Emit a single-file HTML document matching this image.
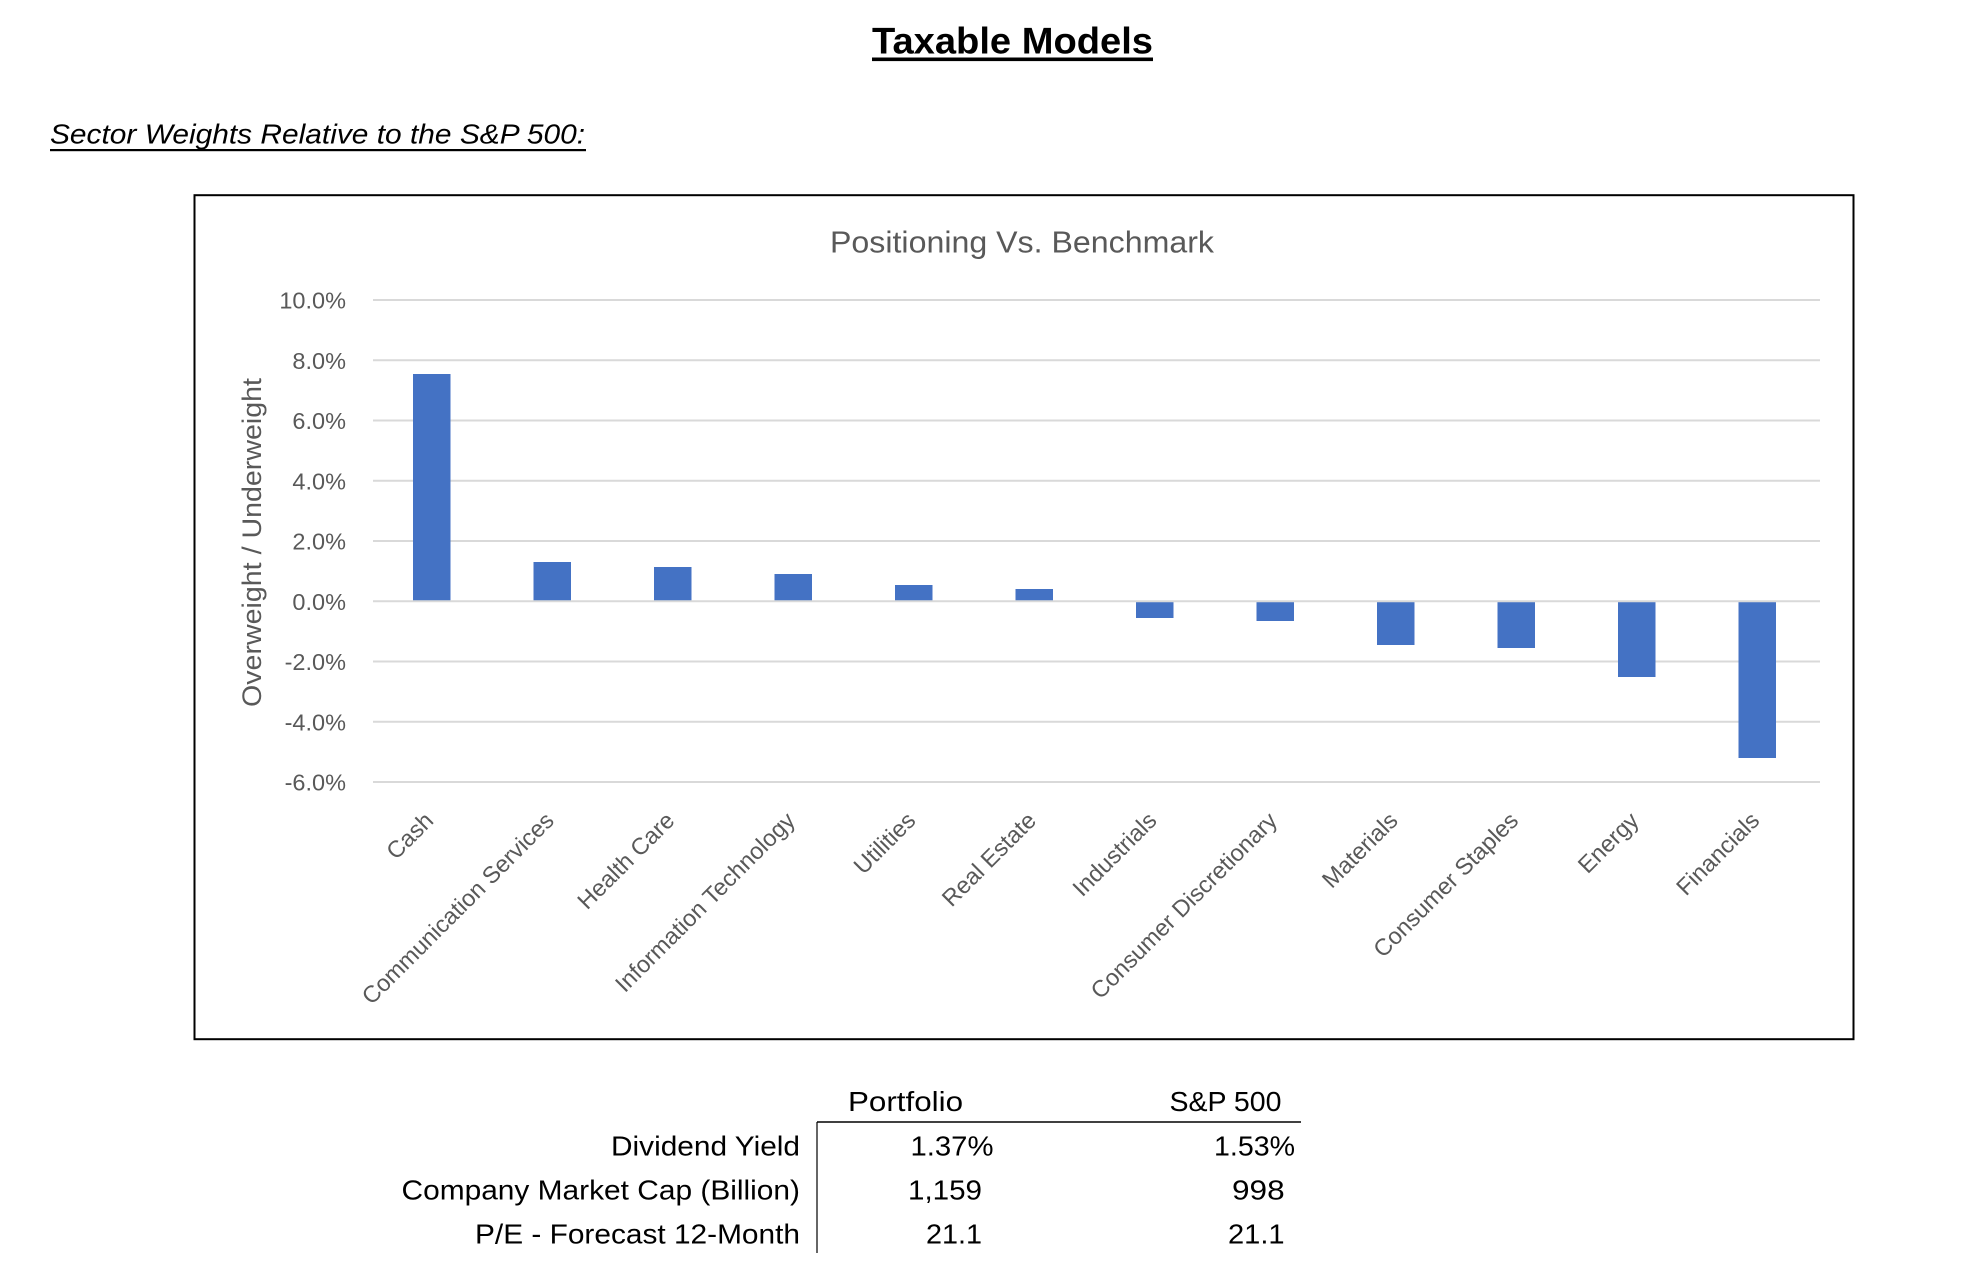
<!DOCTYPE html>
<html>
<head>
<meta charset="utf-8">
<style>
  html, body { margin: 0; padding: 0; background: #ffffff; }
  body { width: 1965px; height: 1280px; overflow: hidden; }
  svg { display: block; }
  text { font-family: "Liberation Sans", Arial, sans-serif; }
</style>
</head>
<body>
<svg width="1965" height="1280" viewBox="0 0 1965 1280" xmlns="http://www.w3.org/2000/svg">
  <rect x="0" y="0" width="1965" height="1280" fill="#ffffff"/>

  <!-- Main title -->
  <text x="872" y="53.3" font-size="37" font-weight="bold" fill="#000" textLength="281" lengthAdjust="spacingAndGlyphs">Taxable Models</text>
  <rect x="872" y="57.5" width="281" height="3.6" fill="#000"/>

  <!-- Subtitle -->
  <text x="50" y="143.3" font-size="28" font-style="italic" fill="#000" textLength="535" lengthAdjust="spacingAndGlyphs">Sector Weights Relative to the S&amp;P 500:</text>
  <rect x="50" y="149" width="536" height="2.2" fill="#000"/>

  <!-- Chart border -->
  <rect x="194.5" y="195.2" width="1659" height="844" fill="#fff" stroke="#000" stroke-width="2"/>

  <!-- Chart title -->
  <text x="830" y="252.3" font-size="31" fill="#595959" textLength="384" lengthAdjust="spacingAndGlyphs">Positioning Vs. Benchmark</text>

  <!-- Gridlines -->
  <g stroke="#d9d9d9" stroke-width="2">
    <line x1="373" y1="300" x2="1820" y2="300"/>
    <line x1="373" y1="360.25" x2="1820" y2="360.25"/>
    <line x1="373" y1="420.5" x2="1820" y2="420.5"/>
    <line x1="373" y1="480.75" x2="1820" y2="480.75"/>
    <line x1="373" y1="541" x2="1820" y2="541"/>
    <line x1="373" y1="661.5" x2="1820" y2="661.5"/>
    <line x1="373" y1="721.75" x2="1820" y2="721.75"/>
    <line x1="373" y1="782" x2="1820" y2="782"/>
  </g>

  <!-- Bars -->
  <g fill="#4472C4">
    <rect x="413" y="374" width="37.5" height="227.5"/>
    <rect x="533.5" y="562" width="37.5" height="39.5"/>
    <rect x="654" y="567" width="37.5" height="34.5"/>
    <rect x="774.5" y="574" width="37.5" height="27.5"/>
    <rect x="895" y="585" width="37.5" height="16.5"/>
    <rect x="1015.5" y="589" width="37.5" height="12.5"/>
    <rect x="1136" y="601.5" width="37.5" height="16.5"/>
    <rect x="1256.5" y="601.5" width="37.5" height="19.5"/>
    <rect x="1377" y="601.5" width="37.5" height="43.5"/>
    <rect x="1497.5" y="601.5" width="37.5" height="46.5"/>
    <rect x="1618" y="601.5" width="37.5" height="75.5"/>
    <rect x="1738.5" y="601.5" width="37.5" height="156.5"/>
  </g>

  <!-- Zero line on top -->
  <line x1="373" y1="601.25" x2="1820" y2="601.25" stroke="#d9d9d9" stroke-width="2"/>

  <!-- Y tick labels -->
  <g font-size="23.5" fill="#595959" text-anchor="end">
    <text x="346" y="308.5">10.0%</text>
    <text x="346" y="368.75">8.0%</text>
    <text x="346" y="429">6.0%</text>
    <text x="346" y="489.25">4.0%</text>
    <text x="346" y="549.5">2.0%</text>
    <text x="346" y="609.75">0.0%</text>
    <text x="346" y="670">-2.0%</text>
    <text x="346" y="730.25">-4.0%</text>
    <text x="346" y="790.5">-6.0%</text>
  </g>

  <!-- Y axis title -->
  <text transform="translate(261,542.5) rotate(-90)" text-anchor="middle" font-size="27" fill="#595959" textLength="329" lengthAdjust="spacingAndGlyphs">Overweight / Underweight</text>

  <!-- Category labels -->
  <g font-size="23.5" fill="#595959" text-anchor="end">
    <text transform="translate(434.75,822) rotate(-45)">Cash</text>
    <text transform="translate(555.3,822) rotate(-45)">Communication Services</text>
    <text transform="translate(675.85,822) rotate(-45)">Health Care</text>
    <text transform="translate(796.4,822) rotate(-45)">Information Technology</text>
    <text transform="translate(916.95,822) rotate(-45)">Utilities</text>
    <text transform="translate(1037.5,822) rotate(-45)">Real Estate</text>
    <text transform="translate(1158.05,822) rotate(-45)">Industrials</text>
    <text transform="translate(1278.6,822) rotate(-45)">Consumer Discretionary</text>
    <text transform="translate(1399.15,822) rotate(-45)">Materials</text>
    <text transform="translate(1519.7,822) rotate(-45)">Consumer Staples</text>
    <text transform="translate(1640.25,822) rotate(-45)">Energy</text>
    <text transform="translate(1760.8,822) rotate(-45)">Financials</text>
  </g>

  <!-- Table -->
  <g font-size="28" fill="#000">
    <text x="848" y="1111" textLength="115" lengthAdjust="spacingAndGlyphs">Portfolio</text>
    <text x="1169.5" y="1111" textLength="112" lengthAdjust="spacingAndGlyphs">S&amp;P 500</text>

    <text x="611" y="1155.5" textLength="189" lengthAdjust="spacingAndGlyphs">Dividend Yield</text>
    <text x="910.5" y="1155.5" textLength="83" lengthAdjust="spacingAndGlyphs">1.37%</text>
    <text x="1214" y="1155.5" textLength="81" lengthAdjust="spacingAndGlyphs">1.53%</text>

    <text x="401.5" y="1199.3" textLength="398.5" lengthAdjust="spacingAndGlyphs">Company Market Cap (Billion)</text>
    <text x="908" y="1199.3" textLength="74" lengthAdjust="spacingAndGlyphs">1,159</text>
    <text x="1232" y="1199.3" textLength="52.6" lengthAdjust="spacingAndGlyphs">998</text>

    <text x="475" y="1243.3" textLength="325" lengthAdjust="spacingAndGlyphs">P/E - Forecast 12-Month</text>
    <text x="926" y="1243.3" textLength="56" lengthAdjust="spacingAndGlyphs">21.1</text>
    <text x="1228" y="1243.3" textLength="56.6" lengthAdjust="spacingAndGlyphs">21.1</text>
  </g>
  <line x1="817" y1="1122" x2="1301" y2="1122" stroke="#000" stroke-width="1.5"/>
  <line x1="817" y1="1122" x2="817" y2="1253" stroke="#000" stroke-width="1.2"/>
</svg>
</body>
</html>
